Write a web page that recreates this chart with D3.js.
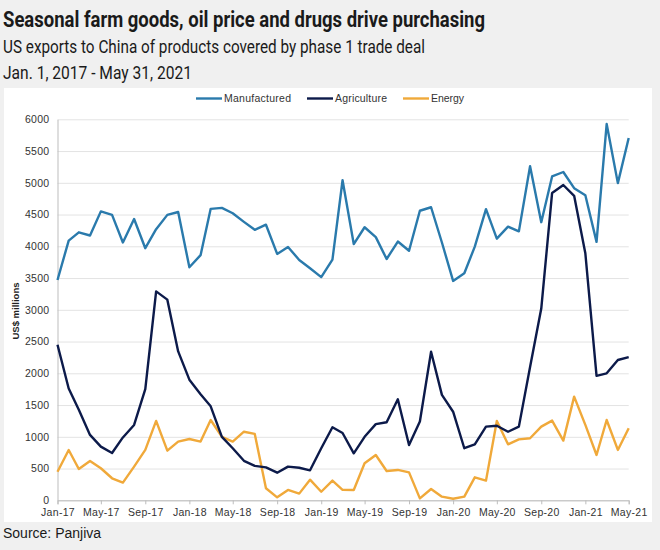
<!DOCTYPE html>
<html>
<head>
<meta charset="utf-8">
<script src="https://cdn.jsdelivr.net/npm/d3@7"></script>
<style>
  html, body { margin: 0; padding: 0; background: #f0f0f0; }
  svg { display: block; }
</style>
</head>
<body>
<svg id="chart" width="660" height="550"></svg>
<script>
// ---- Data (US$ millions, monthly Jan-2017 .. May-2021) ----
const startMonth = "2017-01";
const endMonth = "2021-05";
const seriesNames = ["Manufactured", "Agriculture", "Energy"];
const manufactured = [3470, 4090, 4220, 4170, 4550, 4495, 4060, 4430, 3970, 4270, 4495, 4540, 3670,
  3860, 4590, 4605, 4520, 4385, 4260, 4340, 3880, 3990, 3785, 3655, 3515, 3790, 5040, 4035, 4300,
  4145, 3800, 4075, 3930, 4560, 4615, 4060, 3455, 3575, 3995, 4585, 4120, 4310, 4235, 5260, 4380,
  5100, 5170, 4915, 4805, 4070, 5925, 4995, 5705];
const agriculture = [2450, 1760, 1425, 1030, 845, 745, 990, 1187, 1750, 3290, 3160, 2345, 1900,
  1670, 1480, 1000, 820, 622, 542, 518, 435, 530, 512, 472, 820, 1150, 1060, 740, 1000, 1200, 1230,
  1590, 870, 1240, 2340, 1660, 1395, 820, 880, 1160, 1175, 1080, 1160, 2100, 3020, 4840, 4965,
  4795, 3890, 1960, 2000, 2210, 2255];
const energy = [450, 793, 493, 620, 505, 347, 278, 530, 793, 1250, 782, 925, 966, 925, 1265, 1000,
  925, 1080, 1045, 190, 47, 163, 105, 325, 135, 310, 165, 163, 583, 714, 462, 478, 440, 30, 178,
  57, 25, 57, 362, 310, 1250, 882, 960, 977, 1160, 1255, 940, 1633, 1187, 714, 1265, 793, 1135];
const yTicks = [0, 500, 1000, 1500, 2000, 2500, 3000, 3500, 4000, 4500, 5000, 5500, 6000];
const xTickLabels = ["Jan-17", "May-17", "Sep-17", "Jan-18", "May-18", "Sep-18", "Jan-19",
  "May-19", "Sep-19", "Jan-20", "May-20", "Sep-20", "Jan-21", "May-21"];
const colors = ["#2a7aac", "#0c1a4a", "#f0a93a"];

// ---- Layout ----
const svg = d3.select("#chart");
const W = 660, H = 550;
const plot = { left: 57.5, right: 628.7, top: 119.3, bottom: 500.3 };

const parse = d3.timeParse("%Y-%m");
const months = d3.timeMonth.range(parse(startMonth), d3.timeMonth.offset(parse(endMonth), 1));
const fmt = d3.timeFormat("%b-%y");

const x = d3.scaleTime().domain([months[0], months[months.length - 1]]).range([plot.left, plot.right]);
const y = d3.scaleLinear().domain([0, 6000]).range([plot.bottom, plot.top]);

// background + white panel
svg.append("rect").attr("width", W).attr("height", H).attr("fill", "#f0f0f0");
svg.append("rect").attr("x", 4).attr("y", 88).attr("width", 648).attr("height", 434).attr("fill", "#ffffff");

// titles
svg.append("text").attr("x", 3).attr("y", 27)
  .attr("font-family", "'Liberation Sans Narrow', 'Roboto', sans-serif").attr("font-weight", "bold")
  .attr("font-size", 22).attr("fill", "#1a1a1a")
  .attr("textLength", 482).attr("lengthAdjust", "spacingAndGlyphs")
  .text("Seasonal farm goods, oil price and drugs drive purchasing");
svg.append("text").attr("x", 3).attr("y", 53)
  .attr("font-family", "'Liberation Sans Narrow', 'Roboto', sans-serif")
  .attr("font-size", 19).attr("fill", "#1a1a1a")
  .attr("textLength", 422).attr("lengthAdjust", "spacingAndGlyphs")
  .text("US exports to China of products covered by phase 1 trade deal");
svg.append("text").attr("x", 3).attr("y", 79)
  .attr("font-family", "'Liberation Sans Narrow', 'Roboto', sans-serif")
  .attr("font-size", 19).attr("fill", "#1a1a1a")
  .attr("textLength", 189).attr("lengthAdjust", "spacingAndGlyphs")
  .text("Jan. 1, 2017 - May 31, 2021");

// gridlines
const gridG = svg.append("g").attr("transform", `translate(${plot.left},0)`)
  .call(d3.axisLeft(y).tickValues(yTicks).tickSize(-(plot.right - plot.left)).tickFormat(""));
gridG.select(".domain").remove();
gridG.selectAll(".tick line").attr("stroke", "#e3e3e3").attr("stroke-width", 1);

// y axis
const yAxis = svg.append("g").attr("transform", `translate(${plot.left},0)`)
  .call(d3.axisLeft(y).tickValues(yTicks).tickFormat(d3.format("d")).tickSize(0).tickPadding(8));
yAxis.select(".domain").attr("stroke", "#bdbdbd");
yAxis.selectAll("text").attr("font-family", "'Liberation Sans', Arial, sans-serif")
  .attr("font-size", 10.5).attr("fill", "#333").attr("letter-spacing", 0.3);

// x axis
const tickDates = xTickLabels.map(l => months.find(m => fmt(m) === l));
const xAxis = svg.append("g").attr("transform", `translate(0,${plot.bottom})`)
  .call(d3.axisBottom(x).tickValues(tickDates).tickFormat(fmt).tickSize(4).tickPadding(4));
xAxis.select(".domain").attr("stroke", "#bdbdbd");
xAxis.selectAll(".tick line").attr("stroke", "#bdbdbd");
xAxis.selectAll("text").attr("font-family", "'Liberation Sans', Arial, sans-serif")
  .attr("font-size", 10.5).attr("fill", "#333").attr("letter-spacing", 0.3);

// y axis title
svg.append("text").attr("transform", "translate(19,311) rotate(-90)")
  .attr("text-anchor", "middle").attr("font-family", "'Liberation Sans', Arial, sans-serif")
  .attr("font-weight", "bold").attr("font-size", 9.5).attr("fill", "#222")
  .text("US$ millions");

// lines
const allSeries = [manufactured, agriculture, energy];
const line = d3.line().x((d, i) => x(months[i])).y(d => y(d));
const order = [2, 1, 0];
order.forEach(k => {
  svg.append("path").datum(allSeries[k]).attr("d", line)
    .attr("fill", "none").attr("stroke", colors[k]).attr("stroke-width", 2.4)
    .attr("stroke-linejoin", "round");
});

// legend
const legendItems = [
  { lx: 196, tx: 224, tw: 67 },
  { lx: 307, tx: 335, tw: 52 },
  { lx: 403, tx: 431, tw: 33 }
];
legendItems.forEach((it, k) => {
  svg.append("line").attr("x1", it.lx).attr("x2", it.lx + 26).attr("y1", 98.5).attr("y2", 98.5)
    .attr("stroke", colors[k]).attr("stroke-width", 2.4);
  svg.append("text").attr("x", it.tx).attr("y", 102.3)
    .attr("font-family", "'Liberation Sans', Arial, sans-serif").attr("font-size", 10.5)
    .attr("fill", "#333").attr("textLength", it.tw).attr("lengthAdjust", "spacing")
    .text(seriesNames[k]);
});

// source
svg.append("text").attr("x", 3).attr("y", 538)
  .attr("font-family", "'Liberation Sans', Arial, sans-serif").attr("font-size", 14)
  .attr("fill", "#1a1a1a").text("Source: Panjiva");
</script>
</body>
</html>
